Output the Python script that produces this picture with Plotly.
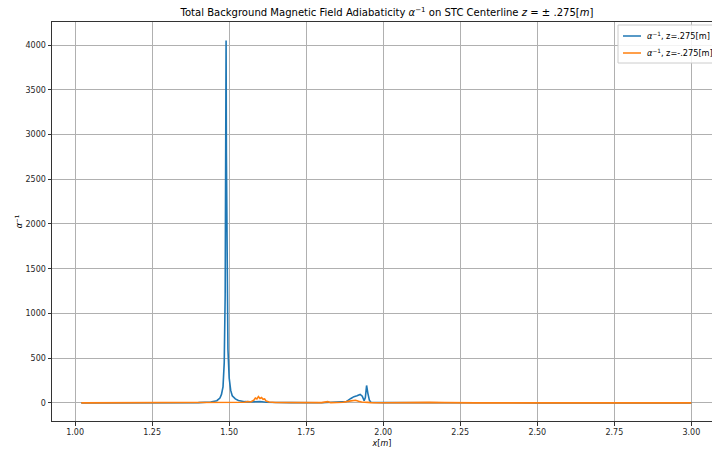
import plotly.graph_objects as go

# Blue series: z = .275 [m]
x_pos = [1.02, 1.30, 1.40, 1.44, 1.46, 1.47, 1.475, 1.48, 1.484, 1.487, 1.489, 1.490, 1.491, 1.493,
         1.496, 1.50, 1.505, 1.51, 1.52, 1.53, 1.55, 1.57, 1.60, 1.62, 1.65, 1.70, 1.80, 1.85,
         1.88, 1.895, 1.905, 1.915, 1.925, 1.932, 1.938, 1.942, 1.946, 1.950, 1.955, 1.96, 1.97,
         2.00, 2.06, 2.065, 2.07, 2.15, 2.20, 2.50, 3.00]
a_pos = [0, 1, 3, 10, 25, 55, 95, 180, 450, 1200, 2800, 4050, 2800, 1300,
         600, 280, 140, 80, 45, 28, 14, 12, 16, 8, 5, 3, 2, 5,
         15, 50, 70, 80, 95, 75, 25, 60, 195, 110, 30, 8, 4,
         3, 3, 10, 3, 5, 2, 1, 0]

# Orange series: z = -.275 [m]
x_neg = [1.02, 1.40, 1.45, 1.50, 1.55, 1.56, 1.57, 1.58, 1.585, 1.59, 1.595, 1.60, 1.605,
         1.61, 1.615, 1.62, 1.63, 1.65, 1.70, 1.75, 1.80, 1.815, 1.82, 1.83, 1.87, 1.89,
         1.90, 1.91, 1.92, 1.93, 1.95, 1.96, 2.00, 2.06, 2.10, 2.15, 2.20, 2.30, 3.00]
a_neg = [0, 1, 3, 5, 8, 15, 10, 30, 55, 45, 70, 50, 60,
         40, 45, 20, 10, 5, 3, 4, 3, 12, 14, 3, 8, 20,
         28, 30, 18, 10, 6, 3, 2, 5, 3, 6, 3, 1, 0]

series_names = ["<i>α</i><sup>−1</sup>, z=.275[m]", "<i>α</i><sup>−1</sup>, z=-.275[m]"]
series_colors = ["#1f77b4", "#ff7f0e"]

x_ticks = [1.00, 1.25, 1.50, 1.75, 2.00, 2.25, 2.50, 2.75, 3.00]
y_ticks = [0, 500, 1000, 1500, 2000, 2500, 3000, 3500, 4000]

fig = go.Figure()
for xs, ys, nm, col in [(x_pos, a_pos, series_names[0], series_colors[0]),
                        (x_neg, a_neg, series_names[1], series_colors[1])]:
    fig.add_trace(go.Scatter(x=xs, y=ys, mode="lines",
                             line=dict(color=col, width=1.6), name=nm, showlegend=False))

L, R, T, B, W, H = 52, 0, 22, 30, 712, 451
pw, ph = W - L - R, H - T - B


def px(xp):
    return (xp - L) / pw


def py(yp):
    return (H - B - yp) / ph


font_fam = "DejaVu Sans"

# Manual legend (clipped by the right edge, as in the reference)
shapes = [dict(type="rect", xref="paper", yref="paper",
               x0=px(618), x1=px(760), y0=py(63), y1=py(25),
               line=dict(color="#cccccc", width=1), fillcolor="rgba(255,255,255,0.85)", layer="above")]
annotations = []
for i, (nm, col) in enumerate(zip(series_names, series_colors)):
    yy = 36 + i * 17
    shapes.append(dict(type="line", xref="paper", yref="paper",
                       x0=px(623), x1=px(641), y0=py(yy), y1=py(yy),
                       line=dict(color=col, width=1.5), layer="above"))
    annotations.append(dict(text=nm, xref="paper", yref="paper", x=px(645), y=py(yy),
                            xanchor="left", yanchor="middle", showarrow=False,
                            font=dict(family=font_fam, size=8.2, color="#000000")))

fig.update_layout(
    width=W, height=H,
    margin=dict(l=L, r=R, t=T, b=B, autoexpand=False),
    paper_bgcolor="white", plot_bgcolor="white",
    font=dict(family=font_fam, size=8, color="#262626"),
    title=dict(text="Total Background Magnetic Field Adiabaticity <i>α</i><sup>−1</sup> on STC Centerline <i>z</i> = ± .275[<i>m</i>]",
               x=(387 - L) / pw, xref="paper", xanchor="center",
               y=1 - 12.5 / H, yanchor="middle",
               font=dict(family=font_fam, size=10.05, color="#000000")),
    showlegend=False,
    shapes=shapes,
    annotations=annotations,
)
fig.update_xaxes(range=[0.925, 3.067], tickvals=x_ticks,
                 ticktext=[f"{v:.2f}" for v in x_ticks],
                 showgrid=True, gridcolor="#b0b0b0", gridwidth=0.8,
                 showline=True, linecolor="#333333", linewidth=1, mirror=True,
                 ticks="outside", ticklen=3.5, tickcolor="#333333",
                 zeroline=False,
                 title=dict(text="<i>x</i>[<i>m</i>]", standoff=4,
                            font=dict(family=font_fam, size=8, color="#000000")))
fig.update_yaxes(range=[-202, 4257], tickvals=y_ticks,
                 showgrid=True, gridcolor="#b0b0b0", gridwidth=0.8,
                 showline=True, linecolor="#333333", linewidth=1, mirror=False,
                 ticks="outside", ticklen=3.5, tickcolor="#333333",
                 zeroline=False,
                 title=dict(text="<i>α</i><sup>−1</sup>", standoff=1,
                            font=dict(family=font_fam, size=8, color="#000000")))

fig.write_html("out.html")
